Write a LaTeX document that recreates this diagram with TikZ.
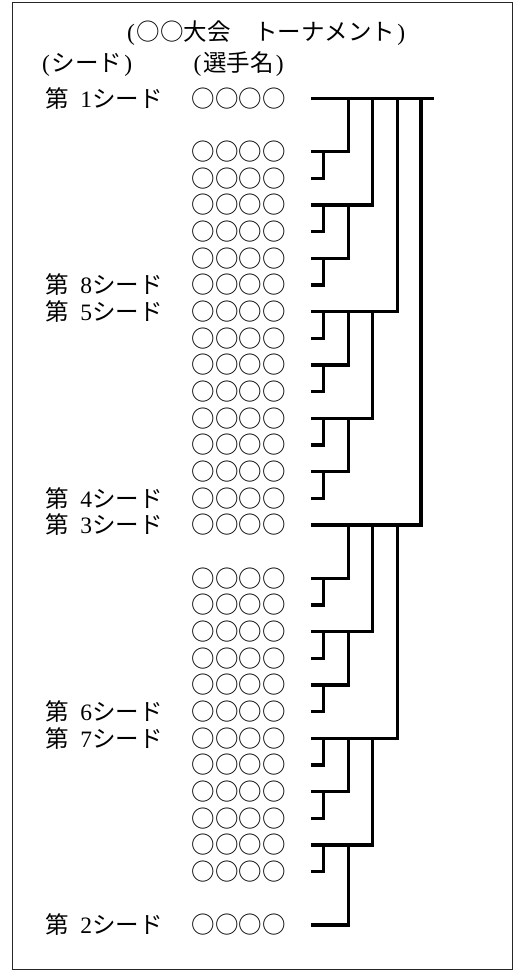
\documentclass[tikz,border=0pt]{standalone}
\usepackage{fontspec}
\setmainfont{Liberation Serif}
\newfontfamily\jp{Noto Sans CJK JP}
\newfontfamily\lat{Liberation Serif}
\begin{document}
\begin{tikzpicture}[x=1pt,y=-1pt]
\tikzset{
  txt/.style={font=\jp\fontsize{23.5}{23.5}\selectfont, inner sep=0pt, anchor=base west},
  bracket/.style={line width=3.2pt, line cap=butt, line join=miter},
  frame/.style={line width=1.1pt, draw=black!85}
}
\useasboundingbox (0,0) rectangle (525,972);
\draw[frame] (12.5,2.5) rectangle (512.5,969.5);
% row coordinates
\foreach \r in {0,...,31} {
  \coordinate (R\r) at (0,{98.3+26.67*\r});
}
% bracket levels
\coordinate (L0) at (311,0);
\coordinate (L1) at (323.8,0);
\coordinate (L2) at (348.6,0);
\coordinate (L3) at (372.5,0);
\coordinate (L4) at (397.2,0);
\coordinate (L5) at (421,0);
\coordinate (E) at (434,0);
% title and headers
\node[txt] (title) at (125,40.6) {{\lat\makebox[11.75pt]{(}}○○大会　トーナメント{\lat\makebox[11.75pt]{)}}};
\node[txt] (hseed) at (40,71.9) {{\lat\makebox[11.75pt]{(}}シード{\lat\makebox[11.75pt]{)}}};
\node[txt] (hname) at (191.5,71.9) {{\lat\makebox[11.75pt]{(}}選手名{\lat\makebox[11.75pt]{)}}};
% players
\foreach \r in {0,2,3,4,5,6,7,8,9,10,11,12,13,14,15,16,18,19,20,21,22,23,24,25,26,27,28,29,31} {
  \node[txt] (p\r) at ([yshift=-8.9pt]R\r -| 191.5,0) {○○○○};
}
% seeds
\foreach \r/\s in {0/1,7/8,8/5,15/4,16/3,23/6,24/7,31/2} {
  \node[txt] (s\r) at ([yshift=-8.9pt]R\r -| 45,0) {第\hspace{11.75pt}\makebox[11.75pt]{\lat \s}シード};
}
% bracket
\draw[bracket] (R0 -| L0) -- (R0 -| E);
\foreach \r/\k/\p in {2/2/0,3/1/2,4/3/0,5/1/4,6/2/4,7/1/6,8/4/0,9/1/8,10/2/8,11/1/10,12/3/8,13/1/12,14/2/12,15/1/14,16/5/0,18/2/16,19/1/18,20/3/16,21/1/20,22/2/20,23/1/22,24/4/16,25/1/24,26/2/24,27/1/26,28/3/24,29/1/28,31/2/28} {
  \draw[bracket] (R\r -| L0) -- (R\r -| L\k) -- (R\p -| L\k);
}
\end{tikzpicture}
\end{document}
